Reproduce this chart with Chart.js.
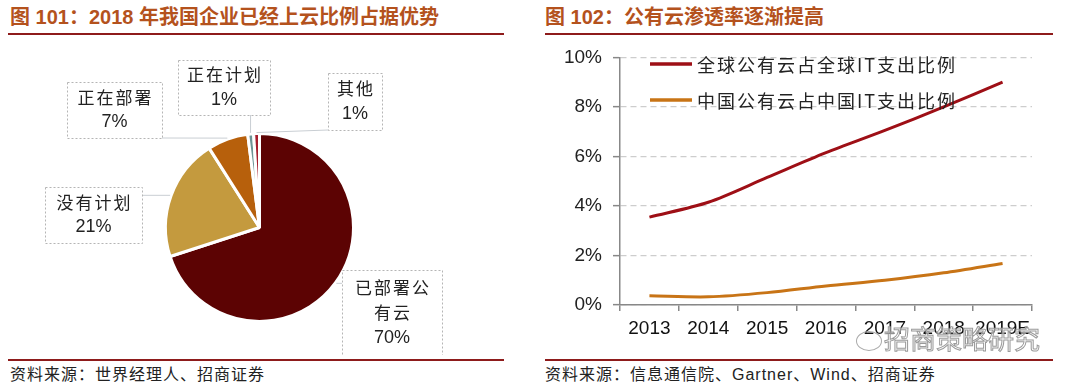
<!DOCTYPE html>
<html><head><meta charset="utf-8">
<script src="https://cdn.jsdelivr.net/npm/chart.js@4.4.1/dist/chart.umd.min.js"></script>
<style>
body{margin:0;width:1080px;height:390px;background:#fff;position:relative;overflow:hidden;font-family:"Liberation Sans","Noto Sans CJK SC",sans-serif;}
.title{position:absolute;top:5px;font-size:20px;font-weight:bold;color:#b4521d;white-space:nowrap;line-height:24px;}
.rule{position:absolute;height:2px;background:#8e1b1b;}
.src{position:absolute;top:364px;font-size:16px;color:#222;white-space:nowrap;line-height:22px;letter-spacing:1px}
.wrap{position:absolute}
.wm{position:absolute;left:884px;top:323px;font-size:26px;line-height:30px;color:rgba(255,255,255,0.5);-webkit-text-stroke:1px #9a9a9a;white-space:nowrap;font-family:"Noto Sans CJK SC",sans-serif}
.wmi{position:absolute;left:856px;top:331px;width:24px;height:18px;border:1px solid #aaa;border-radius:50%;}
</style></head>
<body>
<div class="title" style="left:10px">图 101：2018 年我国企业已经上云比例占据优势</div>
<div class="title" style="left:545px">图 102：公有云渗透率逐渐提高</div>
<div class="wrap" style="left:8px;top:40px;width:497px;height:315px"><canvas id="pie" width="497" height="315"></canvas></div>
<div class="wrap" style="left:545px;top:35px;width:510px;height:314px"><canvas id="line" width="510" height="314"></canvas></div>
<div class="rule" style="left:8px;width:496px;top:33px"></div>
<div class="rule" style="left:545px;width:508px;top:33px"></div>
<div class="rule" style="left:8px;width:496px;top:359px"></div>
<div class="rule" style="left:545px;width:508px;top:359px"></div>
<div class="src" style="left:10px">资料来源：世界经理人、招商证券</div>
<div class="src" style="left:545px">资料来源：信息通信院、Gartner、Wind、招商证券</div>
<div class="wmi"></div>
<div class="wm">招商策略研究</div>
<script>
// ---- data ----
const pieLabels = ['已部署公有云','没有计划','正在部署','正在计划','其他'];
const pieValues = [70, 21, 7, 1, 1];
const years = ['2013','2014','2015','2016','2017','2018','2019E'];
const globalShare = [3.55, 4.15, 5.15, 6.15, 7.05, 8.0, 9.0];
const chinaShare = [0.37, 0.33, 0.5, 0.77, 1.0, 1.3, 1.68];
const seriesNames = ['全球公有云占全球IT支出比例', '中国公有云占中国IT支出比例'];

// ---- styles ----
const pieColors = ['#5c0303', '#c49a3e', '#b7600c', '#6e9496', '#a51d2d'];
const lineColors = ['#9e0f16', '#c87416'];
const CJK = '"Noto Sans CJK SC", sans-serif';
const NUM = '"Liberation Sans", "Noto Sans CJK SC", sans-serif';

// label boxes in canvas coords (pie canvas offset 8,40)
const pieBoxes = [
  {x:334, y:230, w:100, h:86},
  {x:37,  y:147, w:97, h:56},
  {x:59,  y:42,  w:95, h:56},
  {x:170, y:20,  w:92, h:55},
  {x:320, y:33,  w:54, h:57}
];

const pieLabelPlugin = {
  id: 'pieLabels',
  afterDatasetsDraw(chart) {
    const ctx = chart.ctx;
    const meta = chart.getDatasetMeta(0);
    meta.data.forEach((arc, i) => {
      const b = pieBoxes[i];
      const mid = (arc.startAngle + arc.endAngle) / 2;
      const r = arc.outerRadius + 1;
      const px = arc.x + Math.cos(mid) * r;
      const py = arc.y + Math.sin(mid) * r;
      const tx = Math.min(Math.max(px, b.x), b.x + b.w);
      const ty = Math.min(Math.max(py, b.y), b.y + b.h);
      ctx.save();
      ctx.strokeStyle = '#c9ced3';
      ctx.lineWidth = 1;
      ctx.beginPath(); ctx.moveTo(px, py); ctx.lineTo(tx, ty); ctx.stroke();
      ctx.fillStyle = '#fff';
      ctx.fillRect(b.x, b.y, b.w, b.h);
      ctx.setLineDash([2, 2]);
      ctx.strokeStyle = '#b5b5b5';
      ctx.strokeRect(b.x + 0.5, b.y + 0.5, b.w, b.h);
      ctx.setLineDash([]);
      const name = pieLabels[i];
      const lines = [];
      for (let k = 0; k < name.length; k += 4) lines.push(name.slice(k, k + 4));
      lines.push(pieValues[i] + '%');
      const cx = b.x + b.w / 2;
      const cy = b.y + b.h / 2;
      const start = cy - (lines.length - 1) * 25 / 2;
      ctx.fillStyle = '#222';
      ctx.textAlign = 'center';
      ctx.textBaseline = 'middle';
      lines.forEach((t, j) => {
        const isNum = j === lines.length - 1;
        ctx.font = isNum ? '18px ' + NUM : '17px ' + CJK;
        ctx.letterSpacing = isNum ? '0px' : '2px';
        ctx.fillText(t, cx + (isNum ? 0 : 1), start + j * 25);
      });
      ctx.restore();
    });
  }
};

new Chart(document.getElementById('pie'), {
  type: 'pie',
  data: { labels: pieLabels, datasets: [{ data: pieValues, backgroundColor: pieColors, borderColor: '#fff', borderWidth: 3 }] },
  options: {
    responsive: false, animation: false, rotation: 0,
    layout: { padding: { left: 156, right: 150, top: 92, bottom: 32 } },
    plugins: { legend: { display: false }, tooltip: { enabled: false } }
  },
  plugins: [pieLabelPlugin]
});

const legendPlugin = {
  id: 'lineLegend',
  afterDraw(chart) {
    const ctx = chart.ctx;
    chart.data.datasets.forEach((ds, i) => {
      const y = 29 + i * 36;
      ctx.save();
      ctx.strokeStyle = ds.borderColor;
      ctx.lineWidth = 3.5;
      ctx.beginPath(); ctx.moveTo(105, y); ctx.lineTo(147, y); ctx.stroke();
      ctx.fillStyle = '#222';
      ctx.font = '18px ' + CJK;
      ctx.letterSpacing = '2px';
      ctx.textBaseline = 'middle';
      ctx.fillText(ds.label, 152, y + 1);
      ctx.restore();
    });
  }
};

new Chart(document.getElementById('line'), {
  type: 'line',
  data: {
    labels: years,
    datasets: [
      { label: seriesNames[0], data: globalShare, borderColor: lineColors[0], borderWidth: 3, pointRadius: 0, tension: 0.3, fill: false },
      { label: seriesNames[1], data: chinaShare, borderColor: lineColors[1], borderWidth: 3, pointRadius: 0, tension: 0.3, fill: false }
    ]
  },
  options: {
    responsive: false, animation: false,
    layout: { padding: { left: 0, right: 23, top: 12, bottom: 0 } },
    plugins: { legend: { display: false }, tooltip: { enabled: false } },
    scales: {
      x: {
        offset: true,
        grid: { offset: true, drawOnChartArea: false, drawTicks: true, tickLength: 6, color: '#888', lineWidth: 1.5 },
        border: { color: '#888', width: 1.5 },
        ticks: { font: { size: 19, family: NUM }, color: '#111', padding: 6, maxRotation: 0, autoSkip: false },
        afterFit: s => { s.height = 44; }
      },
      y: {
        min: 0, max: 10,
        ticks: { stepSize: 2, callback: v => v + '%', font: { size: 19, family: NUM }, color: '#222', padding: 11 },
        grid: { color: '#cdcdcd', lineWidth: 1.3, drawTicks: true, tickLength: 7, tickColor: '#888', tickWidth: 1.5 },
        border: { display: true, color: '#888', width: 1.5, dash: [6, 4] },
        afterFit: s => { s.width = 75; }
      }
    }
  },
  plugins: [legendPlugin]
});
</script>
</body></html>
